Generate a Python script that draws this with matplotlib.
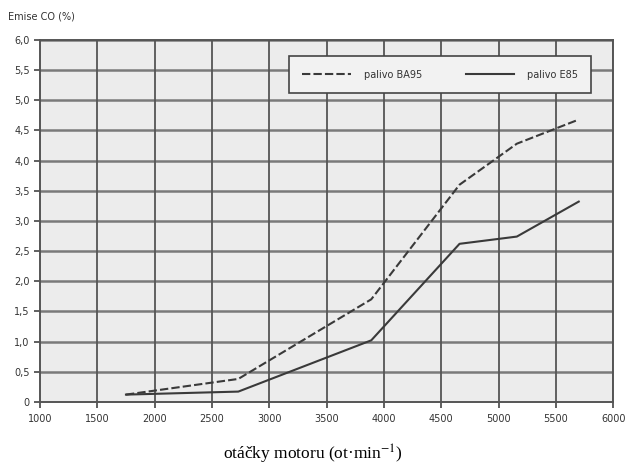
import matplotlib

matplotlib.use("Agg")
import matplotlib.pyplot as plt

# engine speed (rpm) and CO emissions (%)
rpm = [1750, 2730, 3890, 4660, 5160, 5700]
co_ba95 = [0.12, 0.38, 1.70, 3.60, 4.28, 4.68]
co_e85 = [0.12, 0.17, 1.02, 2.62, 2.74, 3.32]

x_ticks = [1000, 1500, 2000, 2500, 3000, 3500, 4000, 4500, 5000, 5500, 6000]
y_ticks = [0, 0.5, 1.0, 1.5, 2.0, 2.5, 3.0, 3.5, 4.0, 4.5, 5.0, 5.5, 6.0]
y_labels = ["0"] + [f"{v:.1f}".replace(".", ",") for v in y_ticks[1:]]

fig = plt.figure(figsize=(6.25, 4.7), dpi=100)
ax = fig.add_axes([0.064, 0.145, 0.917, 0.77])
ax.set_facecolor("#ececec")

ax.plot(rpm, co_ba95, color="#3a3a3a", lw=1.5, ls=(0, (4, 1.5)),
        label="palivo BA95", zorder=3)
ax.plot(rpm, co_e85, color="#3a3a3a", lw=1.5, label="palivo E85", zorder=3)

ax.set_xlim(1000, 6000)
ax.set_ylim(0, 6.0)
ax.set_xticks(x_ticks)
ax.set_yticks(y_ticks)
ax.set_yticklabels(y_labels)
ax.tick_params(axis="both", labelsize=7, colors="#444444", length=4,
               width=1.2, labelcolor="#333333")
ax.tick_params(axis="x", length=4, pad=5)

for v in y_ticks[1:]:
    ax.axhline(v, color="#7a7a7a", lw=1.8, zorder=1)
for v in x_ticks[1:]:
    ax.axvline(v, color="#555555", lw=1.3, zorder=1)

for side in ("top", "right", "left", "bottom"):
    ax.spines[side].set_color("#555555")
    ax.spines[side].set_linewidth(1.4)

leg = ax.legend(loc="upper right", bbox_to_anchor=(0.97, 0.968), ncol=2,
                fontsize=7, frameon=True, fancybox=False, handlelength=5,
                columnspacing=4.5, borderpad=1.35, handletextpad=1.3)
leg.get_frame().set_edgecolor("#444444")
leg.get_frame().set_linewidth(1.2)
leg.get_frame().set_facecolor("#f2f2f2")
leg.get_frame().set_alpha(1)
for t in leg.get_texts():
    t.set_color("#333333")

fig.text(0.013, 0.958, "Emise CO (%)", fontsize=7, color="#333333")
fig.text(0.5, 0.022, "otáčky motoru (ot·min$^{-1}$)", ha="center",
         fontsize=12.5, family="Liberation Serif", math_fontfamily="stix")

fig.savefig("out.png", dpi=100)
